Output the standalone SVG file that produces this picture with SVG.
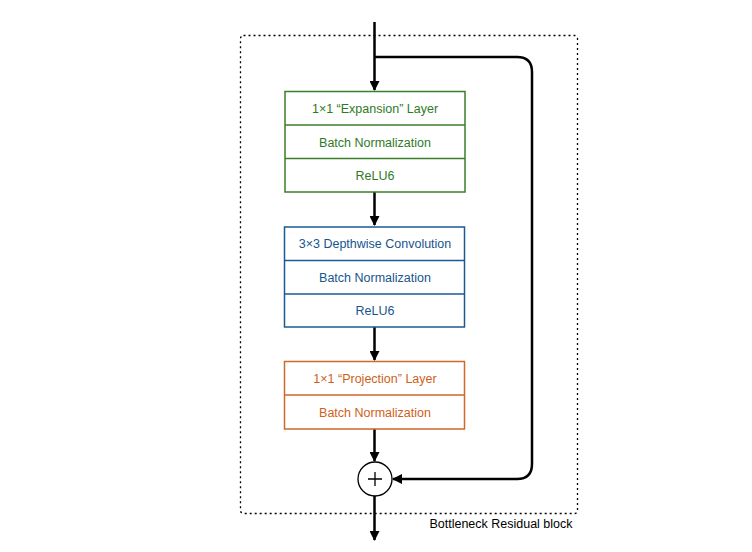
<svg xmlns="http://www.w3.org/2000/svg" width="752" height="552" viewBox="0 0 752 552">
<style>
.g rect, .g line{stroke:#3b7f2a;stroke-width:1.5;fill:#fff}
.b rect, .b line{stroke:#1b5a92;stroke-width:1.5;fill:#fff}
.o rect, .o line{stroke:#d0672b;stroke-width:1.5;fill:#fff}
text{font-family:"Liberation Sans",Arial,sans-serif;font-size:12.5px;text-anchor:middle}
.g text{fill:#2f7a1f}
.b text{fill:#17558e}
.o text{fill:#cf5f20}
.c{stroke:#000;stroke-width:2.5;fill:none}
</style>
<defs>
<marker id="ah" markerWidth="10" markerHeight="10" refX="9" refY="5" orient="auto" markerUnits="userSpaceOnUse">
<path d="M0,0 L10,5 L0,10 z" fill="#000"/>
</marker>
</defs>
<rect id="block" x="240.5" y="35.5" width="337" height="478" rx="3" fill="none" stroke="#000" stroke-width="1.3" stroke-dasharray="2,3"/>
<g id="connectors">
<path class="c" d="M374.5,22 V90" marker-end="url(#ah)"/>
<path class="c" d="M374.5,57 H517 Q532,57 532,72 V464 Q532,479 517,479 H393" marker-end="url(#ah)"/>
<path class="c" d="M374.5,192 V225" marker-end="url(#ah)"/>
<path class="c" d="M374.5,327 V360" marker-end="url(#ah)"/>
<path class="c" d="M374.5,429 V461" marker-end="url(#ah)"/>
<path class="c" d="M374.5,496 V540" marker-end="url(#ah)"/>
</g>
<g id="expansion" class="g">
<rect x="285" y="91.5" width="180" height="100.5"/>
<line x1="285" y1="125" x2="465" y2="125"/>
<line x1="285" y1="158.5" x2="465" y2="158.5"/>
<text x="375" y="113">1×1 “Expansion” Layer</text>
<text x="375" y="147">Batch Normalization</text>
<text x="375" y="180">ReLU6</text>
</g>
<g id="depthwise" class="b">
<rect x="284.5" y="227" width="180" height="100"/>
<line x1="284.5" y1="260.5" x2="464.5" y2="260.5"/>
<line x1="284.5" y1="294" x2="464.5" y2="294"/>
<text x="375" y="248">3×3 Depthwise Convolution</text>
<text x="375" y="282">Batch Normalization</text>
<text x="375" y="315">ReLU6</text>
</g>
<g id="projection" class="o">
<rect x="284.5" y="361.5" width="180" height="67.5"/>
<line x1="284.5" y1="395" x2="464.5" y2="395"/>
<text x="375" y="383">1×1 “Projection” Layer</text>
<text x="375" y="417">Batch Normalization</text>
</g>
<g id="add">
<circle cx="375" cy="479" r="17" fill="#fff" stroke="#000" stroke-width="1.3"/>
<path d="M368,479 H382 M375,472 V486" stroke="#000" stroke-width="1.3"/>
</g>
<text x="501" y="528" style="fill:#000">Bottleneck Residual block</text>
</svg>
